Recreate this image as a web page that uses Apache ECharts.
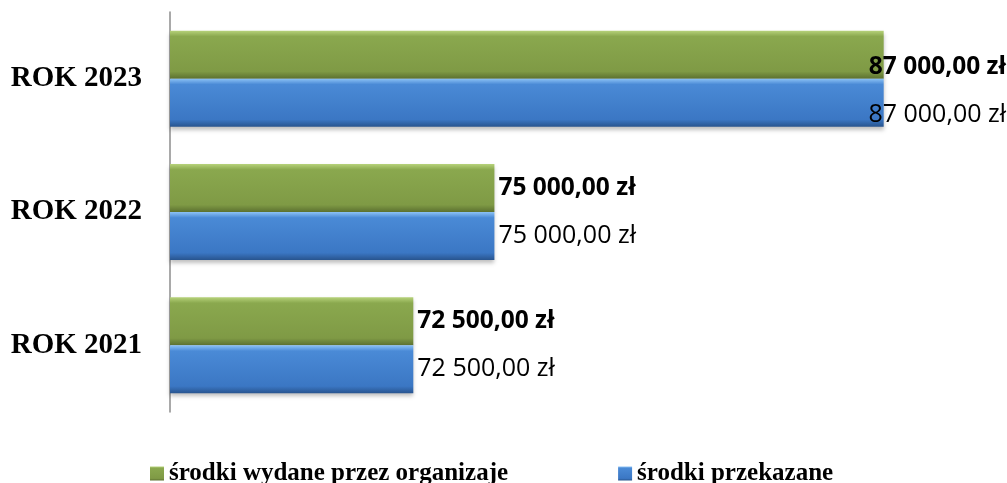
<!DOCTYPE html>
<html>
<head>
<meta charset="utf-8">
<script src="https://cdn.jsdelivr.net/npm/echarts@6/dist/echarts.min.js"></script>
<style>
  html, body { margin: 0; padding: 0; background: #fff; }
  #chart { width: 1007px; height: 483px; }
</style>
</head>
<body>
<div id="chart"></div>
<script>
const years = ['ROK 2021', 'ROK 2022', 'ROK 2023']
const wydane = [72500, 75000, 87000]
const przekazane = [72500, 75000, 87000]
const seriesNames = ['środki wydane przez organizaje', 'środki przekazane']

// 87000 -> "87 000,00 zł"
function zl(v) {
  const parts = v.toFixed(2).split('.')
  const int = parts[0].replace(/\B(?=(\d{3})+(?!\d))/g, ' ')
  return int + ',' + parts[1] + ' zł'
}

const chartW = 1007
const chart = echarts.init(document.getElementById('chart'))

const green = new echarts.graphic.LinearGradient(0, 0, 0, 1, [
  { offset: 0, color: '#b6d27a' },
  { offset: 0.12, color: '#8aa84e' },
  { offset: 0.85, color: '#7f9a45' },
  { offset: 1, color: '#5c7130' }
])
const blue = new echarts.graphic.LinearGradient(0, 0, 0, 1, [
  { offset: 0, color: '#8cc2f5' },
  { offset: 0.12, color: '#4a8ad6' },
  { offset: 0.85, color: '#3b77c4' },
  { offset: 1, color: '#28548e' }
])

// keep the label inside the page (like the 2023 labels)
function fitLabel(params) {
  const r = params.labelRect
  if (r.x + r.width > chartW - 1) {
    return { x: chartW - 1 - r.width }
  }
  return {}
}

chart.setOption({
  animation: false,
  grid: { left: 170, right: 26, top: 12, bottom: 71 },
  legend: {
    top: 456,
    left: 145,
    itemGap: 110,
    itemWidth: 14,
    itemHeight: 14,
    icon: 'rect',
    textStyle: {
      fontFamily: 'Liberation Serif',
      fontWeight: 'bold',
      fontSize: 25,
      color: '#000'
    },
    data: seriesNames
  },
  xAxis: {
    type: 'value',
    min: 65000,
    max: 90000,
    axisLabel: { show: false },
    axisLine: { show: false },
    axisTick: { show: false },
    splitLine: { show: false }
  },
  yAxis: {
    type: 'category',
    data: years,
    axisLine: { show: true, lineStyle: { color: '#8c8c8c', width: 1.5 } },
    axisTick: { show: false },
    axisLabel: {
      margin: 28,
      fontFamily: 'Liberation Serif',
      fontWeight: 'bold',
      fontSize: 29,
      color: '#000'
    }
  },
  series: [
    {
      name: seriesNames[0],
      type: 'bar',
      data: wydane,
      barWidth: 48,
      barGap: '0%',
      itemStyle: {
        color: green,
        shadowColor: 'rgba(0,0,0,0.25)',
        shadowBlur: 4,
        shadowOffsetY: 3
      },
      label: {
        show: true,
        position: 'right',
        distance: 4,
        formatter: p => zl(p.value),
        fontFamily: 'Open Sans',
        fontWeight: 'bold',
        fontSize: 24.5,
        color: '#000'
      },
      labelLayout: fitLabel
    },
    {
      name: seriesNames[1],
      type: 'bar',
      data: przekazane,
      barWidth: 48,
      barGap: '0%',
      itemStyle: {
        color: blue,
        shadowColor: 'rgba(0,0,0,0.25)',
        shadowBlur: 4,
        shadowOffsetY: 3
      },
      label: {
        show: true,
        position: 'right',
        distance: 4,
        formatter: p => zl(p.value),
        fontFamily: 'Open Sans',
        fontSize: 25,
        color: '#000'
      },
      labelLayout: fitLabel
    }
  ]
})
</script>
</body>
</html>
